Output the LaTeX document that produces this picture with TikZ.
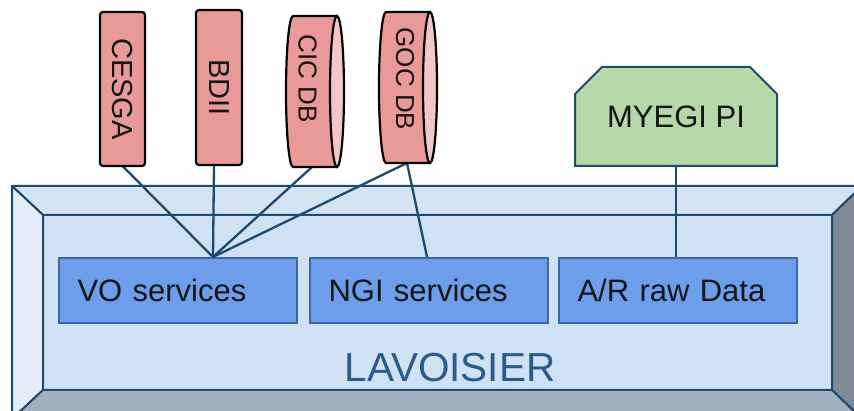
\documentclass[tikz,border=0pt]{standalone}
\usepackage{fontspec}
\setmainfont{Liberation Sans}
\usetikzlibrary{shapes.misc,calc}
\definecolor{navy}{HTML}{1C4A70}
\definecolor{topc}{HTML}{D5E4F3}
\definecolor{innerc}{HTML}{CFE1F2}
\definecolor{leftc}{HTML}{E4EDF8}
\definecolor{botc}{HTML}{A3B1BF}
\definecolor{rightc}{HTML}{7F8A95}
\definecolor{svcfill}{HTML}{6D9EEB}
\definecolor{svcborder}{HTML}{3A68A8}
\definecolor{pinkc}{HTML}{EA9999}
\definecolor{pinkend}{HTML}{F4C7C7}
\definecolor{greenc}{HTML}{B6D7A8}
\definecolor{lavc}{HTML}{2A5A8F}
\definecolor{txt}{HTML}{151515}
\tikzset{
  face/.style={draw=navy, line width=2pt, line join=round},
  svc/.style={draw=svcborder, fill=svcfill, line width=2pt, minimum height=65pt,
    text width=201pt, inner xsep=18.5pt, inner ysep=0pt, align=left, text=txt,
    font=\fontsize{31}{36}\selectfont, anchor=north west},
  pinkbox/.style={draw=black, fill=pinkc, line width=2.2pt, rounded corners=3pt,
    inner sep=0pt, rotate=-90, text=txt, font=\fontsize{29}{34}\selectfont},
  cylbody/.style={draw=black, fill=pinkc, line width=2.2pt, line join=round},
  cylend/.style={draw=black, fill=pinkend, line width=2.2pt},
  cyltext/.style={rotate=-90, inner sep=0pt, text=txt, font=\fontsize{26}{30}\selectfont},
  conn/.style={draw=navy, line width=2.3pt},
}
\begin{document}
\begin{tikzpicture}[x=1pt,y=-1pt]
\useasboundingbox (0,0) rectangle (854,411);
% LAVOISIER bevel box
\begin{scope}
\clip (0,0) rectangle (854,411);
\fill[innerc] (43,215) rectangle (832,390);
\filldraw[face, fill=topc] (12,186) -- (862,186) -- (832,215) -- (43,215) -- cycle;
\filldraw[face, fill=leftc] (12,186) -- (43,215) -- (43,390) -- (12,419) -- cycle;
\filldraw[face, fill=rightc] (862,186) -- (862,419) -- (832,390) -- (832,215) -- cycle;
\filldraw[face, fill=botc] (12,419) -- (862,419) -- (832,390) -- (43,390) -- cycle;
\draw[face] (43,215) rectangle (832,390);
\end{scope}
% services
\node[svc] (vo) at (58,257) {VO services};
\node[svc] (ngi) at (309,257) {NGI services};
\node[svc] (ar) at (558,257) {A/R raw Data};
\node[anchor=base, text=lavc, font=\fontsize{40.5}{48}\selectfont] (lav) at (450,382) {LAVOISIER};
% connectors
\coordinate (vj) at ($(vo.north west)+(155,0)$);
\coordinate (ngij) at ($(ngi.north west)+(118,0)$);
\coordinate (cicb) at (312,167);
\coordinate (gocb) at (407,163);
\draw[conn] (122.5,166) coordinate (cesgab) -- (vj);
\draw[conn] (214,165) coordinate (bdiib) -- (vj);
\draw[conn] (cicb) -- (vj);
\draw[conn] (gocb) -- (vj);
\draw[conn] (gocb) -- (ngij);
% top sources
\node[pinkbox, minimum width=154pt, minimum height=45pt] (cesga) at (122.5,89) {CESGA};
\node[pinkbox, minimum width=155pt, minimum height=46pt] (bdii) at (219,87.5) {BDII};
% CIC DB cylinder
\filldraw[cylbody] (337,16) -- (293,16) arc[start angle=90, end angle=270, x radius=7pt, y radius=75.5pt] -- (337,167) -- cycle;
\filldraw[cylend] (337,91.5) ellipse[x radius=7pt, y radius=75.5pt];
\node[cyltext] (cic) at (307.5,78.5) {CIC DB};
% GOC DB cylinder
\filldraw[cylbody] (430,12) -- (386,12) arc[start angle=90, end angle=270, x radius=7pt, y radius=75.5pt] -- (430,163) -- cycle;
\filldraw[cylend] (430,87.5) ellipse[x radius=7pt, y radius=75.5pt];
\node[cyltext] (goc) at (405,79) {GOC DB};
% MYEGI PI
\node[chamfered rectangle, chamfered rectangle corners={north west,north east},
  chamfered rectangle xsep=17pt, chamfered rectangle ysep=16pt,
  draw=navy, fill=greenc, line width=2pt, minimum width=202pt, minimum height=99pt,
  inner sep=0pt, text=txt, font=\fontsize{31}{36}\selectfont] (my) at (676,116.5) {\raisebox{-3.5pt}{MYEGI PI}};
\draw[conn] (my.south) -- (my.south |- ar.north);
\end{tikzpicture}
\end{document}
